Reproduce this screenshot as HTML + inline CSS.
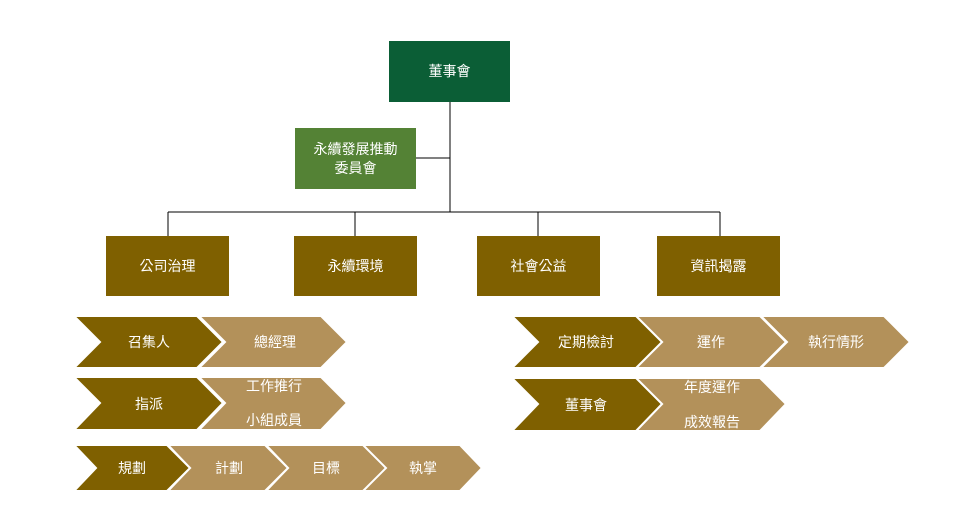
<!DOCTYPE html>
<html><head><meta charset="utf-8"><style>
html,body{margin:0;padding:0;background:#fff;}
svg text{font-family:"Liberation Sans","Noto Sans CJK TC",sans-serif;font-size:14px;fill:#fff;text-anchor:middle;dominant-baseline:central;}
</style></head><body>
<svg width="953" height="521" viewBox="0 0 953 521" xmlns="http://www.w3.org/2000/svg">
<g stroke="#000" stroke-width="1" fill="none">
<line x1="450" y1="102" x2="450" y2="212"/>
<line x1="416" y1="158" x2="450" y2="158"/>
<line x1="168" y1="212" x2="720" y2="212"/>
<line x1="168" y1="212" x2="168" y2="236"/>
<line x1="355" y1="212" x2="355" y2="236"/>
<line x1="538" y1="212" x2="538" y2="236"/>
<line x1="720" y1="212" x2="720" y2="236"/>
</g>
<rect x="389" y="41" width="121" height="61" fill="#0b5e36"/>
<text x="449.5" y="71">董事會</text>
<rect x="295" y="128" width="121" height="61" fill="#548235"/>
<text x="355.5" y="149">永續發展推動</text>
<text x="355.5" y="168">委員會</text>
<g fill="#7f6000">
<rect x="106" y="236" width="123" height="60"/>
<rect x="294" y="236" width="123" height="60"/>
<rect x="477" y="236" width="123" height="60"/>
<rect x="657" y="236" width="123" height="60"/>
</g>
<text x="167.5" y="266">公司治理</text>
<text x="355.5" y="266">永續環境</text>
<text x="538.5" y="266">社會公益</text>
<text x="718.5" y="266">資訊揭露</text>

<g stroke="#fff" stroke-width="2">
<!-- row1 left -->
<polygon fill="#b3915a" points="199,316 321,316 347,342 321,368 199,368 225,342"/>
<polygon fill="#7f6000" points="74,316 197,316 223,342 197,368 74,368 100,342"/>
<!-- row2 left -->
<polygon fill="#b3915a" points="199,377 321,377 347,403 321,430 199,430 225,403"/>
<polygon fill="#7f6000" points="74,377 197,377 223,403 197,430 74,430 100,403"/>
<!-- row3 left -->
<polygon fill="#b3915a" points="363,445 460,445 482,468 460,491 363,491 385,468"/>
<polygon fill="#b3915a" points="266,445 363,445 386,468 363,491 266,491 288,468"/>
<polygon fill="#b3915a" points="168,445 265,445 288,468 265,491 168,491 190,468"/>
<polygon fill="#7f6000" points="74,445 167,445 190,468 167,491 74,491 96,468"/>
<!-- right row1 -->
<polygon fill="#b3915a" points="761,316 884,316 910,342 884,368 761,368 787,342"/>
<polygon fill="#b3915a" points="636,316 760,316 786,342 760,368 636,368 662,342"/>
<polygon fill="#7f6000" points="512,316 636,316 662,342 636,368 512,368 538,342"/>
<!-- right row2 -->
<polygon fill="#b3915a" points="636,378 760,378 786,404 760,431 636,431 662,404"/>
<polygon fill="#7f6000" points="512,378 636,378 662,404 636,431 512,431 538,404"/>
</g>
<text x="149" y="342">召集人</text>
<text x="275" y="342">總經理</text>
<text x="149" y="404">指派</text>
<text x="274" y="386">工作推行</text>
<text x="274" y="420">小組成員</text>
<text x="132" y="468">規劃</text>
<text x="229" y="468">計劃</text>
<text x="326" y="468">目標</text>
<text x="423" y="468">執掌</text>
<text x="586" y="342">定期檢討</text>
<text x="711" y="342">運作</text>
<text x="836" y="342">執行情形</text>
<text x="586" y="405">董事會</text>
<text x="712" y="387">年度運作</text>
<text x="712" y="422">成效報告</text>
</svg>
</body></html>
